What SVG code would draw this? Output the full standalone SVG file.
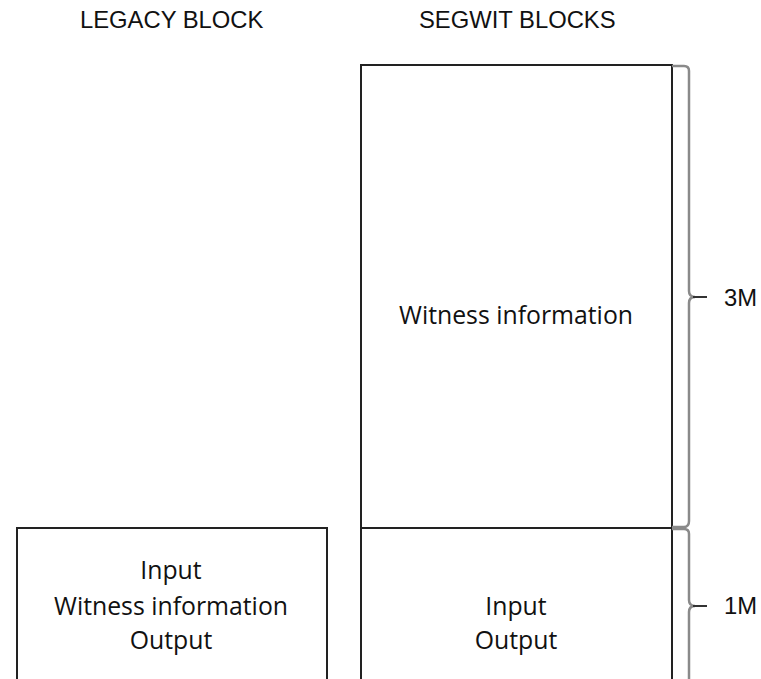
<svg xmlns="http://www.w3.org/2000/svg" width="761" height="679" viewBox="0 0 761 679">
<style>
.box{fill:#fff;stroke:#222;stroke-width:2}
.hdr{font-family:"Liberation Sans",Arial,sans-serif;font-size:23.8px;fill:#111}
.lbl{font-family:"Open Sans","Noto Sans",sans-serif;font-size:24.8px;fill:#111;text-anchor:middle}
.brace{fill:none;stroke:#8a8a8a;stroke-width:2.5}
.tick{fill:none;stroke:#333;stroke-width:2}
</style>
<rect width="761" height="679" fill="#fff"/>
<text class="hdr" x="80" y="28">LEGACY BLOCK</text>
<text class="hdr" x="419" y="28">SEGWIT BLOCKS</text>
<g id="legacy">
<rect class="box" x="17" y="528" width="310" height="170"/>
<text class="lbl" x="171" y="579">Input</text>
<text class="lbl" x="171" y="615">Witness information</text>
<text class="lbl" x="171" y="649">Output</text>
</g>
<g id="segwit-witness">
<rect class="box" x="361" y="65" width="311" height="463"/>
<text class="lbl" x="516" y="324">Witness information</text>
</g>
<g id="segwit-io">
<rect class="box" x="361" y="528" width="311" height="170"/>
<text class="lbl" x="516" y="615">Input</text>
<text class="lbl" x="516" y="649">Output</text>
</g>
<g id="connectors">
<path class="brace" d="M672,66 H684 Q689,66 689,71 V291 Q689,297 695,297 M695,297 Q689,297 689,303 V521 Q689,527 684,527 H672"/>
<path class="tick" d="M693,297 H707"/>
<path class="brace" d="M672,529 H684 Q689,529 689,534 V600 Q689,606 695,606 M695,606 Q689,606 689,612 V700"/>
<path class="tick" d="M693,606 H707"/>
</g>
<text class="hdr" x="724" y="306">3M</text>
<text class="hdr" x="724" y="614">1M</text>
</svg>
